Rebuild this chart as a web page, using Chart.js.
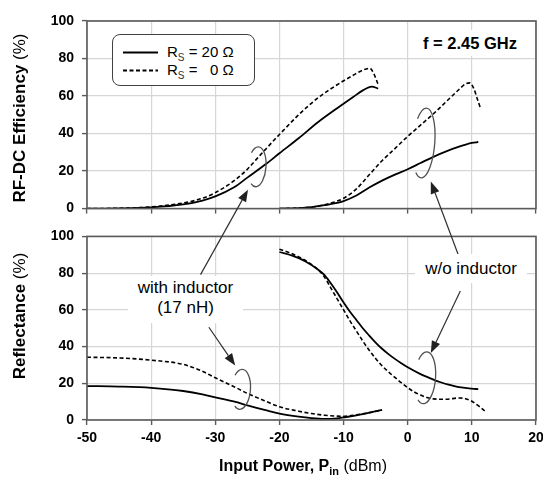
<!DOCTYPE html>
<html>
<head>
<meta charset="utf-8">
<script src="https://cdn.jsdelivr.net/npm/chart.js@4.4.1/dist/chart.umd.min.js"></script>
<style>
    html, body { margin: 0; padding: 0; background: #fff; overflow: hidden; }
    body { width: 543px; height: 478px; position: relative; font-family: "Liberation Sans", Arial, sans-serif; color: #000; }
    .abs { position: absolute; white-space: nowrap; }
    .ytitle { font-size: 17px; transform: translate(-50%, -50%) rotate(-90deg); }
    .box { background: #fff; text-align: center; font-size: 17px; }
    sub { line-height: 0; }
</style>
</head>
<body>
<canvas id="chartTop" class="abs" style="left:0;top:0"></canvas>
<canvas id="chartBottom" class="abs" style="left:0;top:220px"></canvas>
<canvas id="overlay" class="abs" style="left:0;top:0"></canvas>

<div class="abs ytitle" style="left:20px;top:118px"><b>RF-DC Efficiency</b> (%)</div>
<div class="abs ytitle" style="left:20px;top:316px"><b>Reflectance</b> (%)</div>
<div class="abs" style="left:303px;top:466px;transform:translate(-50%,-50%);font-size:16px">
    <b>Input Power, P<sub style="font-size:11px">in</sub></b> (dBm)
</div>

<div class="abs" style="left:112px;top:34px;width:141px;height:50px;border:1.3px solid #404040;border-radius:8px;background:#fff;font-size:15px">
    <svg class="abs" style="left:10px;top:0" width="36" height="50">
        <line x1="0" y1="17.5" x2="35" y2="17.5" stroke="#000" stroke-width="2"/>
        <line x1="0" y1="35.5" x2="35" y2="35.5" stroke="#000" stroke-width="1.8" stroke-dasharray="4,2.5"/>
    </svg>
    <div class="abs" style="left:54px;top:8px">R<sub style="font-size:10px;color:#333">S</sub> = 20 &Omega;</div>
    <div class="abs" style="left:54px;top:26px">R<sub style="font-size:10px;color:#333">S</sub> = &#8199;0 &Omega;</div>
</div>

<div class="abs box" style="left:418px;top:30px;width:104px;height:26px;line-height:26px;font-weight:bold;font-size:16.5px">f = 2.45 GHz</div>
<div class="abs box" style="left:128px;top:276px;width:115px;height:45px;line-height:20px;padding-top:2px">with inductor<br>(17 nH)</div>
<div class="abs box" style="left:415px;top:254px;width:112px;height:29px;line-height:29px">w/o inductor</div>

<script>
// ----- top panel: RF-DC efficiency (%) -----
// with inductor (17 nH)
const pinEffWithL20 = [-50, -45, -40, -35, -32, -30, -27, -25, -22, -20, -17, -14, -11, -8.5, -7, -5.6, -4.6];
const effWithL20 = [0, 0.1, 0.6, 2.2, 4.3, 6.5, 11.5, 16.5, 24, 29.5, 37.5, 46, 53.5, 59.5, 63, 65, 64];
const pinEffWithL0 = [-50, -45, -40, -35, -32, -30, -27, -25, -23, -20, -17, -14, -11, -8.4, -7.2, -5.9, -5.3, -4.6];
const effWithL0 = [0, 0.2, 0.9, 3, 5.5, 8.5, 15, 21, 28.5, 39.5, 50, 59, 66, 71.3, 73.5, 74.8, 72, 66];
// without inductor
const pinEffNoL20 = [-20, -17, -15, -13, -11, -10, -8, -6, -4, -2, 0, 2, 4, 6, 8, 10, 11];
const effNoL20 = [0, 0.3, 0.8, 1.8, 3, 4, 7, 11.2, 14.9, 18.1, 21, 24.3, 27.6, 30.5, 33, 35, 35.5];
const pinEffNoL0 = [-20, -17, -15, -13, -11, -10, -8, -6, -4, -2, 0, 2, 4, 6, 8, 9, 9.7, 10.3, 10.8, 11.3];
const effNoL0 = [0, 0.3, 0.8, 2, 4, 5.5, 10.5, 18, 25.5, 32, 38.5, 44.5, 50.5, 57, 63.5, 66.5, 67, 64, 59, 54];

// ----- bottom panel: reflectance (%) -----
const pinReflWithL = [-50, -45, -40, -35, -32, -30, -27, -25, -22, -20, -17, -15, -13, -11, -10, -8, -6, -4];
const reflWithL20 = [18.5, 18.2, 17.5, 15.8, 14, 12.3, 10, 8, 5.2, 3.5, 1.8, 1, 0.6, 0.9, 1.4, 2.5, 4, 5.5];
const reflWithL0 = [34.2, 33.8, 32.6, 30.3, 26.5, 23, 18, 14.5, 10, 7.2, 4.8, 3.5, 2.6, 2.1, 2, 2.8, 4, 5.5];
const pinReflNoL20 = [-20, -18, -16, -14, -13, -12, -11, -10, -9, -8, -7, -6, -5, -4, -3, -2, -1, 0, 2, 3, 5, 7, 8, 10, 11];
const reflNoL20 = [91.5, 89.5, 86.5, 82, 79, 74.5, 69.5, 64, 59, 54.5, 50, 46, 42.2, 38.8, 35.9, 33.3, 30.9, 28.7, 25, 23.5, 20.7, 18.7, 17.9, 17.1, 16.8];
const pinReflNoL0 = [-20, -18, -16, -14, -13, -12, -11, -10, -9, -8, -7, -6, -5, -4, -3, -2, -1, 0, 1, 2, 3, 4, 6, 8, 9, 10, 11, 12];
const reflNoL0 = [93, 90.5, 87, 82, 78, 72, 66, 60, 54, 48.5, 43, 38, 33.5, 29.5, 26.2, 23.2, 20.3, 17.6, 15.3, 13.6, 12.3, 11.5, 11.3, 12, 11.6, 10.2, 7.8, 5];

const xTicks = [-50, -40, -30, -20, -10, 0, 10, 20];
const yTicks = [0, 20, 40, 60, 80, 100];

function toPoints(xs, ys) {
    return xs.map((x, i) => ({ x: x, y: ys[i] }));
}

function solid(xs, ys) {
    return { data: toPoints(xs, ys), borderColor: '#000', borderWidth: 1.8, pointRadius: 0, cubicInterpolationMode: 'monotone' };
}

function dashed(xs, ys) {
    return { data: toPoints(xs, ys), borderColor: '#000', borderWidth: 1.6, borderDash: [4, 2.5], pointRadius: 0, cubicInterpolationMode: 'monotone' };
}

// draws the full frame around the plot area
const frameBox = {
    id: 'frameBox',
    afterDatasetsDraw(chart) {
        const a = chart.chartArea;
        const ctx = chart.ctx;
        ctx.save();
        ctx.strokeStyle = '#5a5a5a';
        ctx.lineWidth = 1.6;
        ctx.strokeRect(a.left, a.top, a.right - a.left, a.bottom - a.top);
        ctx.restore();
    }
};

function makeOptions(showXLabels, padTop, xHeight) {
    const tickFont = { family: '"Liberation Sans", Arial', size: 14, weight: 700 };
    return {
        responsive: false,
        animation: false,
        events: [],
        layout: { padding: { left: 0, top: padTop, right: 24, bottom: 0 } },
        plugins: { legend: { display: false }, tooltip: { enabled: false } },
        scales: {
            x: {
                type: 'linear', min: -50, max: 20,
                afterBuildTicks: s => { s.ticks = xTicks.map(v => ({ value: v })); },
                afterFit: s => { s.height = xHeight; },
                border: { display: false },
                grid: { color: '#d6d6d6', lineWidth: 1.2, tickLength: 5, tickColor: '#5a5a5a', tickWidth: 1.4 },
                ticks: { display: showXLabels, font: tickFont, color: '#000', padding: 5, maxRotation: 0 }
            },
            y: {
                min: 0, max: 100,
                afterBuildTicks: s => { s.ticks = yTicks.map(v => ({ value: v })); },
                afterFit: s => { s.width = 87; },
                border: { display: false },
                grid: { color: '#d6d6d6', lineWidth: 1.2, tickLength: 5, tickColor: '#5a5a5a', tickWidth: 1.4 },
                ticks: { font: tickFont, color: '#000', padding: 8 }
            }
        }
    };
}

const topCanvas = document.getElementById('chartTop');
topCanvas.width = 560; topCanvas.height = 225;
const topChart = new Chart(topCanvas, {
    type: 'line',
    data: {
        datasets: [
            solid(pinEffWithL20, effWithL20),
            dashed(pinEffWithL0, effWithL0),
            solid(pinEffNoL20, effNoL20),
            dashed(pinEffNoL0, effNoL0)
        ]
    },
    options: makeOptions(false, 21, 16),
    plugins: [frameBox]
});

const bottomCanvas = document.getElementById('chartBottom');
bottomCanvas.width = 560; bottomCanvas.height = 258;
const bottomChart = new Chart(bottomCanvas, {
    type: 'line',
    data: {
        datasets: [
            solid(pinReflWithL, reflWithL20),
            dashed(pinReflWithL, reflWithL0),
            solid(pinReflNoL20, reflNoL20),
            dashed(pinReflNoL0, reflNoL0)
        ]
    },
    options: makeOptions(true, 8, 58),
    plugins: [frameBox]
});

// ----- annotations: loops and arrows, anchored in data units -----
const overlay = document.getElementById('overlay');
overlay.width = 543; overlay.height = 478;
const octx = overlay.getContext('2d');

function pagePoint(chart, offsetY, x, y) {
    return [chart.scales.x.getPixelForValue(x), offsetY + chart.scales.y.getPixelForValue(y)];
}

const loops = [
    { chart: topChart, off: 0, x: -23.5, y: 22.3, rx: 9, ry: 20 },
    { chart: topChart, off: 0, x: 2.5, y: 35, rx: 11, ry: 35 },
    { chart: bottomChart, off: 220, x: -26, y: 16.7, rx: 9.5, ry: 20 },
    { chart: bottomChart, off: 220, x: 2.7, y: 23, rx: 10.5, ry: 26 }
];

const arrows = [
    { from: [bottomChart, 220, -32.3, 79.2], to: [topChart, 0, -24.9, 10.1] },
    { from: [bottomChart, 220, -31.0, 50.5], to: [bottomChart, 220, -26.9, 29.7] },
    { from: [bottomChart, 220, 8.2, 87], to: [topChart, 0, 3.6, 14.4] },
    { from: [bottomChart, 220, 8.2, 70.3], to: [bottomChart, 220, 3.6, 36.5] }
];

octx.strokeStyle = '#505050';
octx.lineWidth = 1.3;
loops.forEach(l => {
    const [cx, cy] = pagePoint(l.chart, l.off, l.x, l.y);
    octx.beginPath();
    octx.ellipse(cx, cy, l.rx, l.ry, 0.08, -2.4, 2.1);
    octx.stroke();
});

octx.strokeStyle = '#303030';
octx.fillStyle = '#202020';
octx.lineWidth = 1.2;
arrows.forEach(a => {
    const [x1, y1] = pagePoint(a.from[0], a.from[1], a.from[2], a.from[3]);
    const [x2, y2] = pagePoint(a.to[0], a.to[1], a.to[2], a.to[3]);
    const ang = Math.atan2(y2 - y1, x2 - x1);
    const len = 12, half = 4.5;
    const bx = x2 - len * Math.cos(ang), by = y2 - len * Math.sin(ang);
    octx.beginPath();
    octx.moveTo(x1, y1);
    octx.lineTo(bx, by);
    octx.stroke();
    octx.beginPath();
    octx.moveTo(x2, y2);
    octx.lineTo(bx + half * Math.sin(ang), by - half * Math.cos(ang));
    octx.lineTo(bx - half * Math.sin(ang), by + half * Math.cos(ang));
    octx.closePath();
    octx.fill();
});
</script>
</body>
</html>
